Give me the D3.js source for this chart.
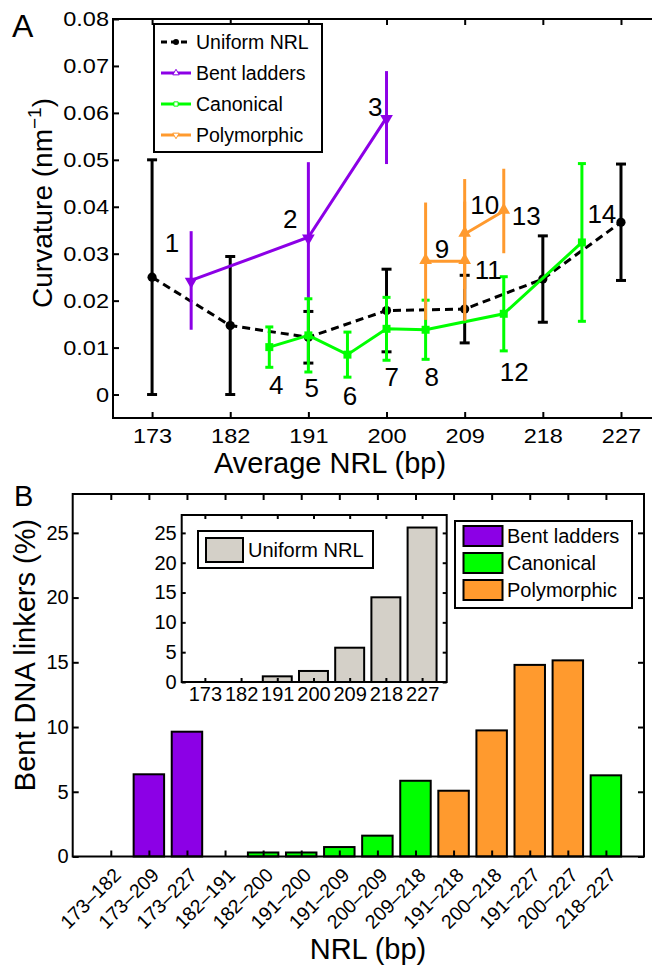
<!DOCTYPE html>
<html>
<head>
<meta charset="utf-8">
<script src="https://cdn.jsdelivr.net/npm/d3@7"></script>
<style>
  body { margin: 0; background: #fff; }
  svg { display: block; }
</style>
</head>
<body>
<script>
// ---- panel A : curvature vs average NRL ----
const uniformNRL  = [173, 182, 191, 200, 209, 218, 227];
const uniformCurv = [0.025, 0.0147, 0.0122, 0.0179, 0.0182, 0.0246, 0.0367];
const uniformErr  = [0.025, 0.0147, 0.0055, 0.0088, 0.0072, 0.0092, 0.0124];

const bentNRL  = [177.5, 191, 200];
const bentCurv = [0.0243, 0.0335, 0.0590];
const bentErr  = [0.0105, 0.016, 0.0099];

const canonNRL  = [186.5, 191, 195.5, 200, 204.5, 213.5, 222.5];
const canonCurv = [0.0101, 0.0126, 0.0085, 0.0140, 0.0138, 0.0172, 0.0324];
const canonErr  = [0.0043, 0.0078, 0.0048, 0.0067, 0.0063, 0.0079, 0.0168];

const polyNRL  = [204.5, 209, 209, 213.5];
const polyCurv = [0.0284, 0.0284, 0.0342, 0.0391];
const polyErr  = [0.0125, 0.0127, 0.0117, 0.009];

// numbered annotations (data coords)
const noteText = ["1","2","3","4","5","6","7","8","9","10","11","12","13","14"];
const noteNRL  = [175.3, 188.9, 198.7, 187.3, 191.4, 195.8, 200.6, 205.2, 206.4, 211.3, 211.7, 214.7, 216.1, 224.8];
const noteCurv = [0.0323, 0.0375, 0.0613, 0.0022, 0.0014, -0.0003, 0.0039, 0.0038, 0.0311, 0.0404, 0.0265, 0.0049, 0.0382, 0.0386];

const yTicksA = [0, 0.01, 0.02, 0.03, 0.04, 0.05, 0.06, 0.07, 0.08];

// ---- panel B : bent linkers per NRL pair ----
const pairLabels = ["173\u2013182","173\u2013209","173\u2013227","182\u2013191","182\u2013200","191\u2013200","191\u2013209",
                    "200\u2013209","209\u2013218","191\u2013218","200\u2013218","191\u2013227","200\u2013227","218\u2013227"];
const pairValues = [0, 6.35, 9.64, 0, 0.31, 0.31, 0.73, 1.61, 5.85, 5.08, 9.74, 14.8, 15.15, 6.27];
const pairGroup  = ["Bent ladders","Bent ladders","Bent ladders","Canonical","Canonical","Canonical","Canonical",
                    "Canonical","Canonical","Polymorphic","Polymorphic","Polymorphic","Polymorphic","Canonical"];
const groupNames = ["Bent ladders", "Canonical", "Polymorphic"];
const yTicksB = [0, 5, 10, 15, 20, 25];

// inset : uniform NRL
const insetLabels = ["173","182","191","200","209","218","227"];
const insetValues = [0, 0, 0.95, 1.85, 5.75, 14.2, 25.9];
const yTicksInset = [0, 5, 10, 15, 20, 25];

const colors = {"Bent ladders": "#8c00e6", "Canonical": "#00ff00", "Polymorphic": "#ff9a2e", "Uniform NRL": "#d4d0c8"};
const fam = "'Liberation Sans', Arial, Helvetica, sans-serif";

const svg = d3.select("body").append("svg")
    .attr("width", 652).attr("height", 965)
    .style("font-family", fam);

function styleAxis(g, fs) {
    g.attr("font-family", fam);
    g.select(".domain").remove();
    g.selectAll(".tick line").attr("stroke", "#000").attr("stroke-width", 2);
    g.selectAll(".tick text").attr("font-size", fs).attr("fill", "#000");
}

// stretch text horizontally (the original tick font is wider)
function widen(sel, k) {
    sel.each(function() {
        const w = this.getComputedTextLength();
        d3.select(this).attr("textLength", w * k).attr("lengthAdjust", "spacingAndGlyphs");
    });
}

// ================= PANEL A =================
const xA = d3.scaleLinear().domain([168.5, 232]).range([113, 664.4]);
const yA = d3.scaleLinear().domain([-0.005, 0.08]).range([418, 19]);
const gA = svg.append("g");

const axB = gA.append("g").attr("transform", `translate(0,${yA.range()[0]})`)
    .call(d3.axisBottom(xA).tickValues(uniformNRL).tickSize(-6).tickPadding(10).tickFormat(d3.format("d")));
styleAxis(axB, 21);
widen(axB.selectAll(".tick text"), 1.12);

const axT = gA.append("g").attr("transform", `translate(0,${yA.range()[1]})`)
    .call(d3.axisTop(xA).tickValues(uniformNRL).tickSize(-6).tickFormat(""));
styleAxis(axT, 0);

const axL = gA.append("g").attr("transform", `translate(${xA.range()[0]},0)`)
    .call(d3.axisLeft(yA).tickValues(yTicksA).tickSize(-6).tickPadding(4)
        .tickFormat(d => d === 0 ? "0" : d3.format(".2f")(d)));
styleAxis(axL, 21);
widen(axL.selectAll(".tick text"), 1.12);

gA.append("rect")
    .attr("x", xA.range()[0]).attr("y", yA.range()[1])
    .attr("width", xA.range()[1] - xA.range()[0]).attr("height", yA.range()[0] - yA.range()[1])
    .attr("fill", "none").attr("stroke", "#000").attr("stroke-width", 2);

function errorBars(g, xs, ys, es, color, cap) {
    xs.forEach((x, i) => {
        const px = xA(x), lo = yA(ys[i] - es[i]), hi = yA(ys[i] + es[i]);
        g.append("line").attr("x1", px).attr("x2", px).attr("y1", lo).attr("y2", hi)
            .attr("stroke", color).attr("stroke-width", 3);
        if (cap) {
            [lo, hi].forEach(yy => g.append("line")
                .attr("x1", px - cap / 2).attr("x2", px + cap / 2).attr("y1", yy).attr("y2", yy)
                .attr("stroke", color).attr("stroke-width", 3));
        }
    });
}

function series(xs, ys) { return xs.map((x, i) => [x, ys[i]]); }
const lineA = d3.line().x(d => xA(d[0])).y(d => yA(d[1]));

// uniform NRL
errorBars(gA, uniformNRL, uniformCurv, uniformErr, "#000", 10);
gA.append("path").attr("d", lineA(series(uniformNRL, uniformCurv)))
    .attr("fill", "none").attr("stroke", "#000").attr("stroke-width", 3).attr("stroke-dasharray", "8,5");
gA.selectAll(".uni").data(series(uniformNRL, uniformCurv)).enter().append("circle")
    .attr("cx", d => xA(d[0])).attr("cy", d => yA(d[1])).attr("r", 4.6).attr("fill", "#000");

// bent ladders
errorBars(gA, bentNRL, bentCurv, bentErr, colors["Bent ladders"], 0);
gA.append("path").attr("d", lineA(series(bentNRL, bentCurv)))
    .attr("fill", "none").attr("stroke", colors["Bent ladders"]).attr("stroke-width", 3);
gA.selectAll(".bent").data(series(bentNRL, bentCurv)).enter().append("path")
    .attr("d", d3.symbol(d3.symbolTriangle, 70))
    .attr("transform", d => `translate(${xA(d[0])},${yA(d[1]) + 1}) rotate(180)`)
    .attr("fill", colors["Bent ladders"]);

// canonical
errorBars(gA, canonNRL, canonCurv, canonErr, colors["Canonical"], 8);
gA.append("path").attr("d", lineA(series(canonNRL, canonCurv)))
    .attr("fill", "none").attr("stroke", colors["Canonical"]).attr("stroke-width", 3);
gA.selectAll(".canon").data(series(canonNRL, canonCurv)).enter().append("path")
    .attr("d", d3.symbol(d3.symbolSquare, 64))
    .attr("transform", d => `translate(${xA(d[0])},${yA(d[1])})`)
    .attr("fill", colors["Canonical"]);

// polymorphic
errorBars(gA, polyNRL, polyCurv, polyErr, colors["Polymorphic"], 0);
gA.append("path").attr("d", lineA(series(polyNRL, polyCurv)))
    .attr("fill", "none").attr("stroke", colors["Polymorphic"]).attr("stroke-width", 3);
gA.selectAll(".poly").data(series(polyNRL, polyCurv)).enter().append("path")
    .attr("d", d3.symbol(d3.symbolTriangle, 70))
    .attr("transform", d => `translate(${xA(d[0])},${yA(d[1]) - 1})`)
    .attr("fill", colors["Polymorphic"]);

// numbers
gA.selectAll(".note").data(noteText).enter().append("text")
    .attr("x", (d, i) => xA(noteNRL[i])).attr("y", (d, i) => yA(noteCurv[i]))
    .attr("dy", "0.36em").attr("text-anchor", "middle")
    .attr("font-size", 26).text(d => d);

// legend A
const legA = gA.append("g");
legA.append("rect").attr("x", 154).attr("y", 24).attr("width", 168).attr("height", 128)
    .attr("fill", "#fff").attr("stroke", "#000").attr("stroke-width", 2);
const legAItems = ["Uniform NRL", "Bent ladders", "Canonical", "Polymorphic"];
const legAColors = ["#000", colors["Bent ladders"], colors["Canonical"], colors["Polymorphic"]];
legAItems.forEach((name, i) => {
    const yy = 42 + i * 31;
    legA.append("line").attr("x1", 161).attr("x2", 191).attr("y1", yy).attr("y2", yy)
        .attr("stroke", legAColors[i]).attr("stroke-width", 3)
        .attr("stroke-dasharray", i === 0 ? "6,4" : null);
    if (i === 0) {
        legA.append("circle").attr("cx", 176).attr("cy", yy).attr("r", 3).attr("fill", "#000");
    } else {
        const sym = i === 2 ? d3.symbolSquare : d3.symbolTriangle;
        legA.append("path").attr("d", d3.symbol(sym, 18))
            .attr("transform", `translate(176,${yy})` + (i === 3 ? " rotate(180)" : ""))
            .attr("fill", "#fff").attr("stroke", legAColors[i]).attr("stroke-width", 1);
    }
    legA.append("text").attr("x", 196).attr("y", yy).attr("dy", "0.36em")
        .attr("font-size", 19.5).text(name);
});

// axis titles A
gA.append("text").attr("x", 330).attr("y", 473).attr("text-anchor", "middle")
    .attr("font-size", 29).text("Average NRL (bp)");
const ttl = gA.append("text").attr("transform", "translate(52,203) rotate(-90)")
    .attr("text-anchor", "middle").attr("font-size", 28);
ttl.append("tspan").text("Curvature (nm");
ttl.append("tspan").attr("font-size", 19).attr("dy", -11).text("\u22121");
ttl.append("tspan").attr("dy", 11).text(")");

svg.append("text").attr("x", 12).attr("y", 37).attr("font-size", 32).text("A");

// ================= PANEL B =================
const xB = d3.scaleLinear().domain([0, 15]).range([72.7, 644]);
const yB = d3.scaleLinear().domain([0, 28]).range([856.5, 494]);
const gB = svg.append("g");
const unitB = xB(1) - xB(0);

gB.selectAll(".bar").data(pairValues).enter().append("rect")
    .attr("x", (d, i) => xB(i + 1) - 0.4 * unitB).attr("width", 0.8 * unitB)
    .attr("y", d => yB(d)).attr("height", d => yB(0) - yB(d))
    .attr("fill", (d, i) => colors[pairGroup[i]])
    .attr("stroke", "#000").attr("stroke-width", 2);

const bxB = gB.append("g").attr("transform", `translate(0,${yB(0)})`)
    .call(d3.axisBottom(xB).tickValues(d3.range(1, 15)).tickSize(-6).tickFormat(i => pairLabels[i - 1]));
styleAxis(bxB, 19.5);
bxB.selectAll(".tick text").attr("x", 0).attr("y", 0).attr("dy", "0.35em")
    .attr("text-anchor", "end").attr("transform", "translate(6,15) rotate(-45)");

const txB = gB.append("g").attr("transform", `translate(0,${yB.range()[1]})`)
    .call(d3.axisTop(xB).tickValues(d3.range(1, 15)).tickSize(-6).tickFormat(""));
styleAxis(txB, 0);

const lyB = gB.append("g").attr("transform", `translate(${xB.range()[0]},0)`)
    .call(d3.axisLeft(yB).tickValues(yTicksB).tickSize(-6).tickPadding(4));
styleAxis(lyB, 20);
const ryB = gB.append("g").attr("transform", `translate(${xB.range()[1]},0)`)
    .call(d3.axisRight(yB).tickValues(yTicksB).tickSize(-6).tickFormat(""));
styleAxis(ryB, 0);

gB.append("rect")
    .attr("x", xB.range()[0]).attr("y", yB.range()[1])
    .attr("width", xB.range()[1] - xB.range()[0]).attr("height", yB.range()[0] - yB.range()[1])
    .attr("fill", "none").attr("stroke", "#000").attr("stroke-width", 2);

// legend B
const legB = gB.append("g");
legB.append("rect").attr("x", 455).attr("y", 521).attr("width", 177).attr("height", 87)
    .attr("fill", "#fff").attr("stroke", "#000").attr("stroke-width", 2);
groupNames.forEach((name, i) => {
    const yy = 526 + i * 27;
    legB.append("rect").attr("x", 463.5).attr("y", yy).attr("width", 39).attr("height", 20)
        .attr("fill", colors[name]).attr("stroke", "#000").attr("stroke-width", 2);
    legB.append("text").attr("x", 507).attr("y", yy + 10).attr("dy", "0.36em")
        .attr("font-size", 20).text(name);
});

// inset
const xI = d3.scaleLinear().domain([0.36, 7.68]).range([181.7, 446.7]);
const yI = d3.scaleLinear().domain([0, 28]).range([682, 515]);
const gI = gB.append("g");
const unitI = xI(1) - xI(0);
gI.append("rect").attr("x", xI.range()[0]).attr("y", yI.range()[1])
    .attr("width", xI.range()[1] - xI.range()[0]).attr("height", yI.range()[0] - yI.range()[1])
    .attr("fill", "#fff");
gI.selectAll(".ibar").data(insetValues).enter().append("rect")
    .attr("x", (d, i) => xI(i + 1) - 0.4 * unitI).attr("width", 0.8 * unitI)
    .attr("y", d => yI(d)).attr("height", d => yI(0) - yI(d))
    .attr("fill", colors["Uniform NRL"]).attr("stroke", "#000").attr("stroke-width", 2);

const bxI = gI.append("g").attr("transform", `translate(0,${yI(0)})`)
    .call(d3.axisBottom(xI).tickValues(d3.range(1, 8)).tickSize(-4).tickPadding(5).tickFormat(i => insetLabels[i - 1]));
styleAxis(bxI, 20);
const txI = gI.append("g").attr("transform", `translate(0,${yI.range()[1]})`)
    .call(d3.axisTop(xI).tickValues(d3.range(1, 8)).tickSize(-4).tickFormat(""));
styleAxis(txI, 0);
const lyI = gI.append("g").attr("transform", `translate(${xI.range()[0]},0)`)
    .call(d3.axisLeft(yI).tickValues(yTicksInset).tickSize(-4).tickPadding(5));
styleAxis(lyI, 20);
const ryI = gI.append("g").attr("transform", `translate(${xI.range()[1]},0)`)
    .call(d3.axisRight(yI).tickValues(yTicksInset).tickSize(-4).tickFormat(""));
styleAxis(ryI, 0);
gI.append("rect").attr("x", xI.range()[0]).attr("y", yI.range()[1])
    .attr("width", xI.range()[1] - xI.range()[0]).attr("height", yI.range()[0] - yI.range()[1])
    .attr("fill", "none").attr("stroke", "#000").attr("stroke-width", 2);

gI.append("rect").attr("x", 198).attr("y", 531).attr("width", 175).attr("height", 37)
    .attr("fill", "#fff").attr("stroke", "#000").attr("stroke-width", 2);
gI.append("rect").attr("x", 206).attr("y", 538).attr("width", 37).attr("height", 24)
    .attr("fill", colors["Uniform NRL"]).attr("stroke", "#000").attr("stroke-width", 2);
gI.append("text").attr("x", 248).attr("y", 550).attr("dy", "0.36em")
    .attr("font-size", 20).text("Uniform NRL");

// axis titles B
gB.append("text").attr("x", 368).attr("y", 959).attr("text-anchor", "middle")
    .attr("font-size", 29).text("NRL (bp)");
gB.append("text").attr("transform", "translate(35,655) rotate(-90)")
    .attr("text-anchor", "middle").attr("font-size", 29).text("Bent DNA linkers (%)");

svg.append("text").attr("x", 14).attr("y", 506).attr("font-size", 29).text("B");
</script>
</body>
</html>
